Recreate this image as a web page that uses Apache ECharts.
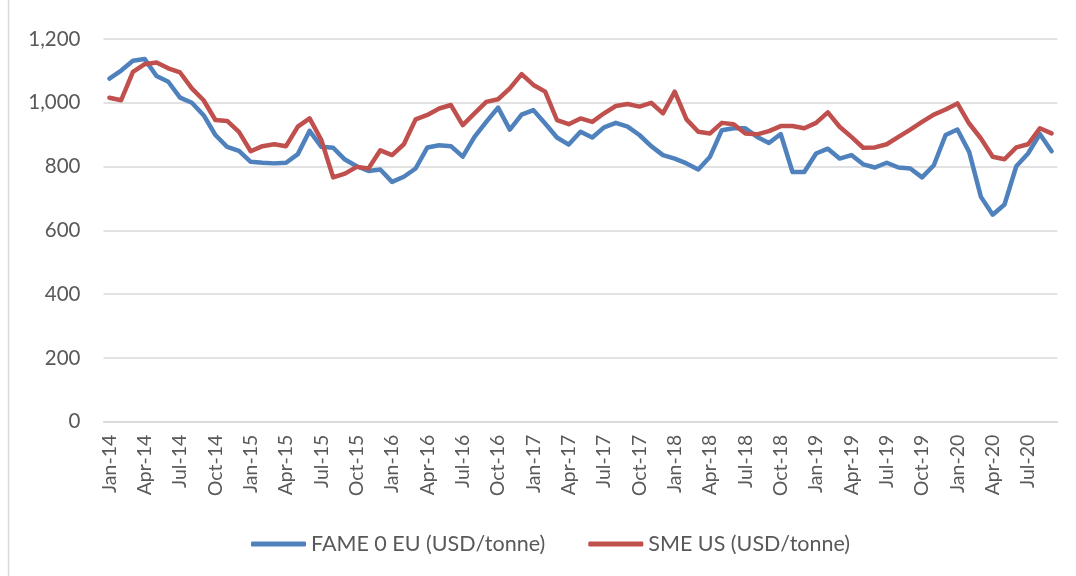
<!DOCTYPE html>
<html>
<head>
<meta charset="utf-8">
<script src="https://cdn.jsdelivr.net/npm/echarts@6/dist/echarts.min.js"></script>
<style>
html,body{margin:0;padding:0;background:#fff;}
#c{width:1076px;height:576px;}
</style>
</head>
<body>
<div id="c"></div>
<script>
const monthNames = ['Jan','Feb','Mar','Apr','May','Jun','Jul','Aug','Sep','Oct','Nov','Dec'];
const categories = [];
for (let y = 14; y <= 20; y++) {
  for (let m = 0; m < 12; m++) {
    if (y === 20 && m > 8) break;
    categories.push(monthNames[m] + '-' + y);
  }
}
const fameEU = [
  1076,1101,1132,1137,1084,1066,1016,1000,961,899,862,849,
  815,812,810,812,839,912,862,859,822,801,786,791,
  752,768,794,860,867,864,831,893,940,985,916,963,
  977,935,891,869,909,891,923,937,925,899,864,836,
  825,810,791,831,914,920,920,893,874,902,783,783,
  841,856,825,836,807,797,812,797,794,766,804,899,
  916,846,705,649,681,801,841,902,848
];
const smeUS = [
  1016,1008,1097,1121,1126,1108,1095,1045,1008,946,943,909,
  848,864,870,864,925,951,883,766,778,799,794,851,
  836,870,948,962,982,993,930,967,1003,1011,1045,1090,
  1056,1035,946,933,951,940,967,990,996,988,1000,967,
  1035,948,909,904,937,933,904,901,911,927,927,920,
  937,970,925,893,859,860,870,893,916,940,963,979,
  998,935,888,831,823,860,870,920,904
];
const yTicks = [0,200,400,600,800,1000,1200];

const chart = echarts.init(document.getElementById('c'));
const font = 'Lato, "Noto Sans", sans-serif';
chart.setOption({
  animation: false,
  backgroundColor: '#fff',
  graphic: [{
    type: 'line', shape: {x1: 8.5, y1: 0, x2: 8.5, y2: 576},
    style: {stroke: '#d9d9d9', lineWidth: 1.5}
  }],
  grid: {left: 103.5, right: 18.5, top: 39, bottom: 154.3, containLabel: false},
  legend: {
    top: 528,
    left: 246,
    itemWidth: 55,
    itemHeight: 5,
    itemGap: 43,
    icon: 'roundRect',
    textStyle: {fontFamily: font, fontSize: 21.5, color: '#595959'},
    data: ['FAME 0 EU (USD/tonne)', 'SME US (USD/tonne)']
  },
  xAxis: {
    type: 'category',
    data: categories,
    boundaryGap: true,
    axisLine: {lineStyle: {color: '#d9d9d9', width: 1.5}},
    axisTick: {interval: 2, length: 6, lineStyle: {color: '#d9d9d9', width: 1.5}},
    axisLabel: {interval: 2, rotate: 90, margin: 13, fontFamily: font, fontSize: 19.5, color: '#595959'},
    splitLine: {show: false}
  },
  yAxis: {
    type: 'value',
    min: yTicks[0], max: yTicks[yTicks.length - 1], interval: 200,
    axisLine: {show: false},
    axisTick: {show: false},
    axisLabel: {
      margin: 23, fontFamily: font, fontSize: 20.5, color: '#595959',
      formatter: v => v.toLocaleString('en-US')
    },
    splitLine: {lineStyle: {color: '#d9d9d9', width: 1.5}}
  },
  series: [
    {name: 'FAME 0 EU (USD/tonne)', type: 'line', data: fameEU, symbol: 'none',
     lineStyle: {color: '#4f81bd', width: 4.5, join: 'round', cap: 'round'},
     itemStyle: {color: '#4f81bd'}},
    {name: 'SME US (USD/tonne)', type: 'line', data: smeUS, symbol: 'none',
     lineStyle: {color: '#c0504d', width: 4.5, join: 'round', cap: 'round'},
     itemStyle: {color: '#c0504d'}}
  ]
});
</script>
</body>
</html>
